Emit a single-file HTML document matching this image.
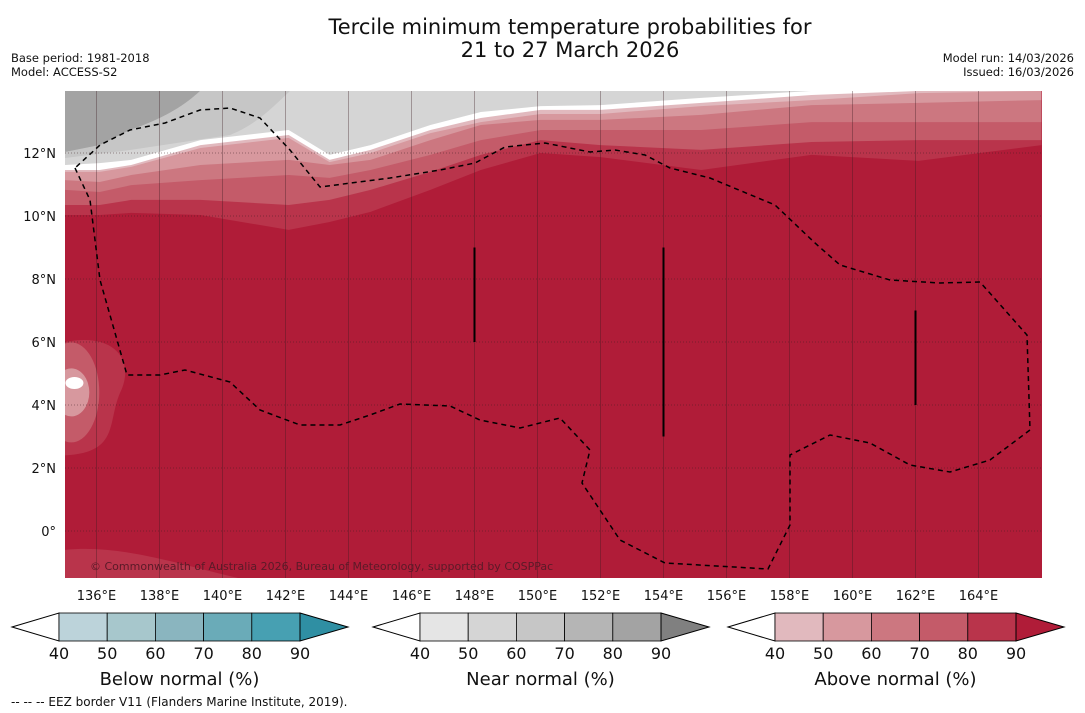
<!DOCTYPE html>
<html><head><meta charset="utf-8"><style>
body{margin:0;background:#fff;width:1085px;height:713px;overflow:hidden;font-family:"DejaVu Sans","Liberation Sans",sans-serif}
svg{position:absolute;left:0;top:0;font-family:"DejaVu Sans","Liberation Sans",sans-serif}
</style></head><body>
<svg id="c" width="1085" height="713" xmlns="http://www.w3.org/2000/svg">
<text x="570" y="34" text-anchor="middle" font-size="21" fill="#111">Tercile minimum temperature probabilities for</text>
<text x="570" y="57" text-anchor="middle" font-size="21" fill="#111">21 to 27 March 2026</text>
<text x="11" y="62" font-size="11.5" fill="#111">Base period: 1981-2018</text>
<text x="11" y="76" font-size="11.5" fill="#111">Model: ACCESS-S2</text>
<text x="1074" y="62" font-size="11.5" text-anchor="end" fill="#111">Model run: 14/03/2026</text>
<text x="1074" y="76" font-size="11.5" text-anchor="end" fill="#111">Issued: 16/03/2026</text>
<defs><clipPath id="mc"><rect x="65" y="91" width="977" height="487"/></clipPath></defs>
<g id="map" clip-path="url(#mc)"></g>
<g id="axes"></g>
<g id="cbars"></g>
<text x="11" y="706" font-size="12" fill="#111">--  --  -- EEZ border V11 (Flanders Marine Institute, 2019).</text>
</svg>
<script>
// ---- data ----
const lonTicks=[136,138,140,142,144,146,148,150,152,154,156,158,160,162,164];
const latTicks=[12,10,8,6,4,2,0];
// contour boundaries (lat at each lon), top to bottom
const bLons=[135,136.1,137.1,139.3,142.1,143.4,144.7,146.6,148.2,150.1,152,155.2,158.7,162.1,166];
const bGray=[11.62,11.68,11.78,12.41,12.73,11.94,12.25,12.89,13.30,13.49,13.52,13.75,13.97,14.06,14.06];
const bWhite=[11.46,11.46,11.62,12.25,12.57,11.78,12.10,12.73,13.11,13.37,13.37,13.59,13.84,13.97,13.97];
const b50=[11.40,11.40,11.56,12.16,12.48,11.71,12.0,12.63,12.98,13.24,13.24,13.49,13.68,13.90,13.97];
const b60=[11.14,11.08,11.30,11.62,11.78,11.62,11.78,12.41,12.89,13.05,13.05,13.21,13.52,13.59,13.68];
const b70=[10.83,10.76,10.98,11.14,11.30,11.21,11.46,11.94,12.41,12.73,12.73,12.73,12.98,12.98,12.98];
const b80=[10.35,10.35,10.51,10.51,10.35,10.51,10.83,11.40,11.94,12.41,12.25,12.10,12.35,12.41,12.41];
const b90=[10.03,10.03,10.10,10.03,9.56,9.81,10.13,10.83,11.46,12.0,11.87,11.46,11.94,11.75,12.25];
const barLon=[148,154,162];const barTop=[9,9,7];const barBot=[6,3,4];
const cbLabels=[40,50,60,70,80,90];
const belowCols=["#bcd3da","#a7c7cc","#8ab5bf","#6aabb8","#47a0b2","#2f8fa3"];
const nearCols=["#e5e5e5","#d5d5d5","#c6c6c6","#b5b5b5","#a3a3a3","#808080"];
const aboveCols=["#e1b9be","#d7989e","#cc7780","#c45b69","#b9344b","#b01c38"];
// ---- scales ----
const X=l=>65+(l-135)*31.5, Y=la=>531-la*31.5;
const NS="http://www.w3.org/2000/svg";
function mk(t,p,a){const e=document.createElementNS(NS,t);for(const k in a)e.setAttribute(k,a[k]);p.appendChild(e);return e;}
const map=document.getElementById('map'),axes=document.getElementById('axes'),cb=document.getElementById('cbars');
let bg=mk('rect',map,{x:65,y:91,width:977,height:487,fill:"#b01c38"});


// left side lighter patches
let p1=mk('path',map,{d:`M${X(135)},${Y(6)} C${X(136.5)},${Y(6.3)} ${X(137.2)},${Y(5.5)} ${X(136.8)},${Y(4.5)} C${X(136.3)},${Y(3.5)} ${X(136.8)},${Y(2.5)} ${X(135)},${Y(2.4)} Z`,fill:"#b9344b"});


let p2=mk('ellipse',map,{cx:X(135.2),cy:Y(4.4),rx:28,ry:50,fill:"#c45b69"});


let p3=mk('ellipse',map,{cx:X(135.2),cy:Y(4.4),rx:18,ry:24,fill:"#d7989e"});


let p4=mk('ellipse',map,{cx:X(135.3),cy:Y(4.7),rx:9,ry:6,fill:"#fff"});


let p5=mk('path',map,{d:`M${X(135)},${Y(-0.6)} C${X(137)},${Y(-0.4)} ${X(139)},${Y(-1.2)} ${X(141)},${Y(-1.6)} L${X(135)},${Y(-1.6)} Z`,fill:"#b9344b"});


// bands: fill region above each boundary, drawn bottom-up
const bounds=[bGray,bWhite,b50,b60,b70,b80,b90];
const cols=["#d5d5d5","#ffffff","#e1b9be","#d7989e","#cc7780","#c45b69","#b9344b"];
for(let i=bounds.length-1;i>=0;i--){
  let d=`M${X(135)},${Y(15)} `+bLons.map((l,j)=>`L${X(l)},${Y(bounds[i][j])}`).join(' ')+` L${X(166)},${Y(15)} Z`;
  let e=mk('path',map,{d:d,fill:cols[i]});
  
  
}
// gray shading in top
let g2=mk('path',map,{d:`M200,91 L290,91 C270,110 255,125 230,135 L130,150 L65,158 L65,152 L100,145 L130,130 C165,118 185,105 200,91 Z`,fill:"#c6c6c6"});


let g1=mk('path',map,{d:`M65,91 L200,91 C185,105 165,118 130,130 L100,145 L65,152 Z`,fill:"#a3a3a3"});


// gridlines
lonTicks.forEach(l=>{let e=mk('line',map,{x1:X(l),x2:X(l),y1:91,y2:578,stroke:"#3a1a20","stroke-opacity":0.35,"stroke-width":1});


let t=mk('text',axes,{x:X(l),y:600,"font-size":13,"text-anchor":"middle",fill:"#111"});t.textContent=l+"°E";

});
latTicks.forEach(la=>{let e=mk('line',map,{x1:65,x2:1042,y1:Y(la),y2:Y(la),stroke:"#3a1a20","stroke-opacity":0.45,"stroke-width":1,"stroke-dasharray":"1,2"});


let t=mk('text',axes,{x:56,y:Y(la)+5,"font-size":13,"text-anchor":"end",fill:"#111"});t.textContent=la===0?"0°":la+"°N";

});
// vertical black bars
barLon.forEach((l,i)=>{let e=mk('line',map,{x1:X(l),x2:X(l),y1:Y(barTop[i]),y2:Y(barBot[i]),stroke:"#000","stroke-width":2});

});
// EEZ border
let eez=mk('path',map,{d:"M75,168 L90,200 L100,280 L127,375 L160,375 L185,370 L230,382 L260,410 L300,425 L340,425 L370,415 L400,404 L450,406 L480,420 L520,428 L560,418 L590,450 L582,483 L620,540 L665,563 L768,569 L790,525 L790,455 L830,435 L870,443 L910,465 L950,472 L990,460 L1030,430 L1027,335 L980,282 L940,283 L890,280 L840,265 L815,243 L775,205 L710,178 L670,168 L645,155 L615,150 L590,152 L545,143 L505,147 L475,163 L440,170 L390,178 L320,187 L290,150 L260,118 L230,108 L200,110 L165,123 L130,130 L100,145 Z",fill:"none",stroke:"#000","stroke-width":1.5,"stroke-dasharray":"5,4"});


let cp=mk('text',map,{x:90,y:570,"font-size":11,fill:"#5a1a28"});cp.textContent="© Commonwealth of Australia 2026, Bureau of Meteorology, supported by COSPPac";


// colorbars
function colorbar(x0,colsA,title,name){
  const g=mk('g',cb,{});
  
  
  const w=48.2,y0=613,h=28,y1=y0+h;
  let lt=mk('polygon',g,{points:`${x0},${y0+h/2} ${x0+47},${y0} ${x0+47},${y1}`,fill:"#fff",stroke:"#000","stroke-width":1});
  
  
  const bx=x0+47;
  for(let i=0;i<5;i++){let r=mk('rect',g,{x:bx+i*w,y:y0,width:w,height:h,fill:colsA[i],stroke:"#000","stroke-width":0.8});
    
    }
  let rt=mk('polygon',g,{points:`${bx+5*w},${y0} ${bx+5*w+48},${y0+h/2} ${bx+5*w},${y1}`,fill:colsA[5],stroke:"#000","stroke-width":1});
  
  
  cbLabels.forEach((v,i)=>{let t=mk('text',g,{x:bx+i*w,y:659,"font-size":16,"text-anchor":"middle",fill:"#111"});t.textContent=v;
    
    });
  let tt=mk('text',g,{x:bx+2.5*w,y:685,"font-size":18,"text-anchor":"middle",fill:"#111"});tt.textContent=title;
  
  
}
colorbar(12,belowCols,"Below normal (%)","below-normal-colorbar");
colorbar(373,nearCols,"Near normal (%)","near-normal-colorbar");
colorbar(728,aboveCols,"Above normal (%)","above-normal-colorbar");
</script>
</body></html>
